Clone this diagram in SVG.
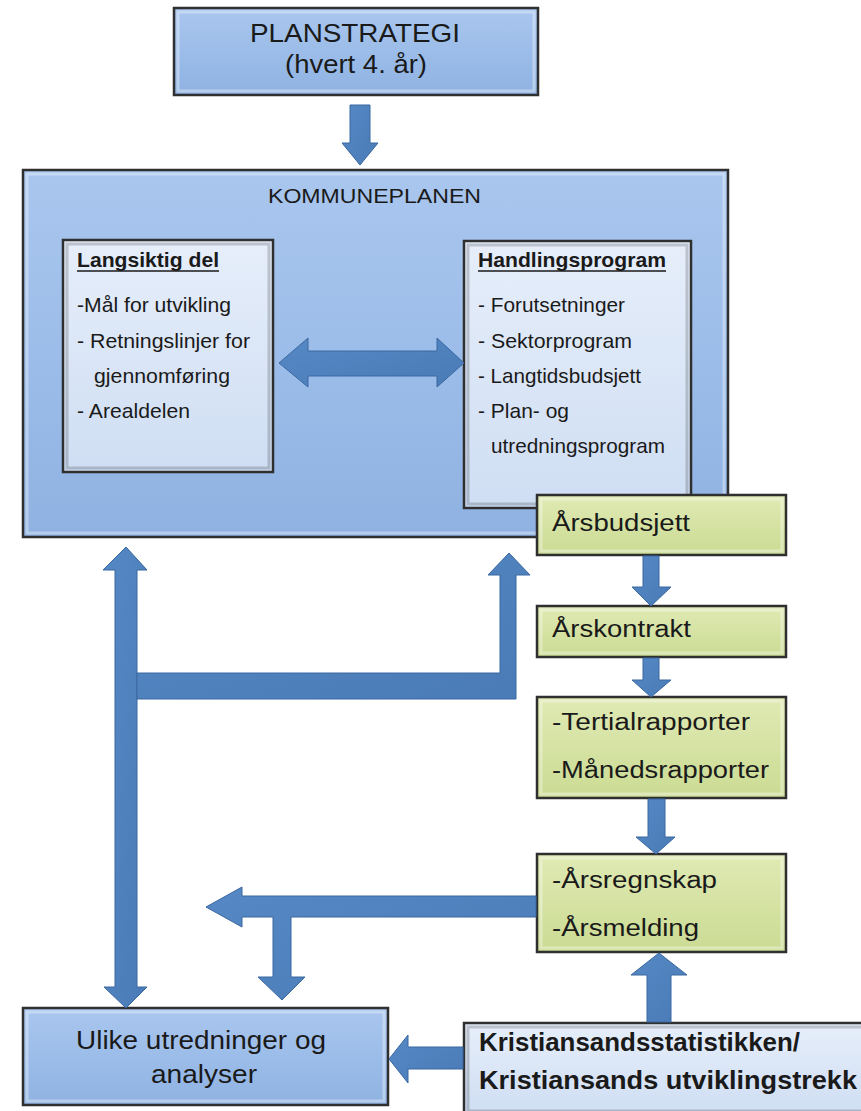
<svg xmlns="http://www.w3.org/2000/svg" width="861" height="1111" viewBox="0 0 861 1111">
<defs>
<linearGradient id="gBlue" x1="0" y1="0" x2="0" y2="1">
<stop offset="0" stop-color="#a9c6ee"/><stop offset="0.5" stop-color="#9cbde9"/><stop offset="1" stop-color="#8fb2e2"/>
</linearGradient>
<linearGradient id="gLight" x1="0" y1="0" x2="0" y2="1">
<stop offset="0" stop-color="#e6eefa"/><stop offset="1" stop-color="#cfdef3"/>
</linearGradient>
<linearGradient id="gGreen" x1="0" y1="0" x2="0" y2="1">
<stop offset="0" stop-color="#e0eab4"/><stop offset="1" stop-color="#cbdb93"/>
</linearGradient>
<linearGradient id="gArrow" x1="0" y1="0" x2="1" y2="1">
<stop offset="0" stop-color="#5588c4"/><stop offset="1" stop-color="#4a7bb7"/>
</linearGradient>
</defs>
<style>
.box{stroke:#2f2f2f;stroke-width:2.5}
.blue{fill:url(#gBlue)}
.light{fill:url(#gLight)}
.green{fill:url(#gGreen)}
.bevel{fill:none;stroke:#ffffff;stroke-opacity:0.35;stroke-width:3}
.bevelD{fill:none;stroke:#000000;stroke-opacity:0.18;stroke-width:3}
.arr{fill:url(#gArrow);stroke:#3a68a2;stroke-width:1}
text{font-family:"Liberation Sans",Arial,sans-serif;fill:#1a1a1a}
.t{font-size:21px}
.g{font-size:23px}
.b{font-weight:bold}
</style>
<rect width="861" height="1111" fill="#ffffff"/>

<g id="planstrategi">
<rect class="box blue" x="174" y="8" width="364" height="87"/>
<rect class="bevel" x="178" y="12" width="356" height="79"/>
<text x="250" y="42" style="font-size:25px" textLength="210" lengthAdjust="spacingAndGlyphs">PLANSTRATEGI</text>
<text x="285" y="73" style="font-size:25px" textLength="142" lengthAdjust="spacingAndGlyphs">(hvert 4. år)</text>
</g>

<g id="kommuneplanen">
<rect class="box blue" x="23" y="170" width="705" height="367"/>
<rect class="bevel" x="27" y="174" width="697" height="359"/>
<text x="268" y="203" style="font-size:21px" textLength="213" lengthAdjust="spacingAndGlyphs">KOMMUNEPLANEN</text>
</g>

<g id="langsiktig">
<rect class="box light" x="63" y="240" width="210" height="232"/>
<rect class="bevelD" x="67" y="244" width="202" height="224"/>
<text class="t b" x="77" y="267" textLength="142" lengthAdjust="spacingAndGlyphs">Langsiktig del</text>
<line x1="77" y1="271" x2="219" y2="271" stroke="#1a1a1a" stroke-width="1.6"/>
<text class="t" x="77" y="312" textLength="154" lengthAdjust="spacingAndGlyphs">-Mål for utvikling</text>
<text class="t" x="77" y="348" textLength="173" lengthAdjust="spacingAndGlyphs">- Retningslinjer  for</text>
<text class="t" x="94" y="383" textLength="136" lengthAdjust="spacingAndGlyphs">gjennomføring</text>
<text class="t" x="77" y="418" textLength="113" lengthAdjust="spacingAndGlyphs">- Arealdelen</text>
</g>

<g id="handlingsprogram">
<rect class="box light" x="464" y="241" width="227" height="267"/>
<rect class="bevelD" x="468" y="245" width="219" height="259"/>
<text class="t b" x="478" y="267" textLength="188" lengthAdjust="spacingAndGlyphs">Handlingsprogram</text>
<line x1="478" y1="271" x2="666" y2="271" stroke="#1a1a1a" stroke-width="1.6"/>
<text class="t" x="478" y="312" textLength="147" lengthAdjust="spacingAndGlyphs">- Forutsetninger</text>
<text class="t" x="478" y="348" textLength="154" lengthAdjust="spacingAndGlyphs">- Sektorprogram</text>
<text class="t" x="478" y="383" textLength="163" lengthAdjust="spacingAndGlyphs">- Langtidsbudsjett</text>
<text class="t" x="478" y="418" textLength="91" lengthAdjust="spacingAndGlyphs">- Plan- og</text>
<text class="t" x="491" y="453" textLength="174" lengthAdjust="spacingAndGlyphs">utredningsprogram</text>
</g>

<g id="arsbudsjett">
<rect class="box green" x="537" y="495" width="249" height="60"/>
<rect class="bevel" x="541" y="499" width="241" height="52"/>
<text class="g" x="552" y="531" textLength="138" lengthAdjust="spacingAndGlyphs">Årsbudsjett</text>
</g>

<g id="arskontrakt">
<rect class="box green" x="537" y="606" width="249" height="51"/>
<rect class="bevel" x="541" y="610" width="241" height="43"/>
<text class="g" x="552" y="637" textLength="139" lengthAdjust="spacingAndGlyphs">Årskontrakt</text>
</g>

<g id="rapporter">
<rect class="box green" x="537" y="697" width="249" height="101"/>
<rect class="bevel" x="541" y="701" width="241" height="93"/>
<text class="g" x="552" y="730" textLength="198" lengthAdjust="spacingAndGlyphs">-Tertialrapporter</text>
<text class="g" x="552" y="778" textLength="217" lengthAdjust="spacingAndGlyphs">-Månedsrapporter</text>
</g>

<g id="arsregnskap">
<rect class="box green" x="537" y="854" width="249" height="98"/>
<rect class="bevel" x="541" y="858" width="241" height="90"/>
<text class="g" x="552" y="888" textLength="165" lengthAdjust="spacingAndGlyphs">-Årsregnskap</text>
<text class="g" x="552" y="936" textLength="147" lengthAdjust="spacingAndGlyphs">-Årsmelding</text>
</g>

<g id="ulike">
<rect class="box blue" x="23" y="1008" width="365" height="97"/>
<rect class="bevel" x="27" y="1012" width="357" height="89"/>
<text x="76" y="1049" style="font-size:25px" textLength="250" lengthAdjust="spacingAndGlyphs">Ulike utredninger og</text>
<text x="151" y="1083" style="font-size:25px" textLength="106" lengthAdjust="spacingAndGlyphs">analyser</text>
</g>

<g id="kristiansand">
<rect class="box light" x="464" y="1023" width="400" height="92"/>
<rect class="bevelD" x="468" y="1027" width="400" height="84"/>
<text class="b" x="479" y="1051" style="font-size:25px" textLength="321" lengthAdjust="spacingAndGlyphs">Kristiansandsstatistikken/</text>
<text class="b" x="479" y="1089" style="font-size:25px" textLength="378" lengthAdjust="spacingAndGlyphs">Kristiansands utviklingstrekk</text>
</g>

<g id="connectors">
<polygon class="arr" points="350,105 370,105 370,143 378,143 360,165 342,143 350,143"/>
<polygon class="arr" points="279,363 308,338 308,351 437,351 437,338 464,363 437,387 437,376 308,376 308,387"/>
<polygon class="arr" points="643,556 659,556 659,587 671,587 651,606 632,587 643,587"/>
<polygon class="arr" points="643,658 659,658 659,680 671,680 651,697 632,680 643,680"/>
<polygon class="arr" points="648,799 665,799 665,837 675,837 656,854 636,837 648,837"/>
<polygon class="arr" points="647,1022 671,1022 671,975 687,975 659,953 631,975 647,975"/>
<polygon class="arr" points="463,1047 463,1069 408,1069 408,1083 389,1059 408,1035 408,1047"/>
<polygon class="arr" points="536,896 536,917 291,917 291,977 305,977 282,1000 258,977 273,977 273,917 242,917 242,927 206,907 242,887 242,896"/>
<polygon class="arr" points="126,547 147,570 137,570 137,987 147,987 126,1008 104,987 115,987 115,570 103,570"/>
<polygon class="arr" points="137,673 500,673 500,575 488,575 509,553 530,575 516,575 516,699 137,699"/>
</g>
</svg>
